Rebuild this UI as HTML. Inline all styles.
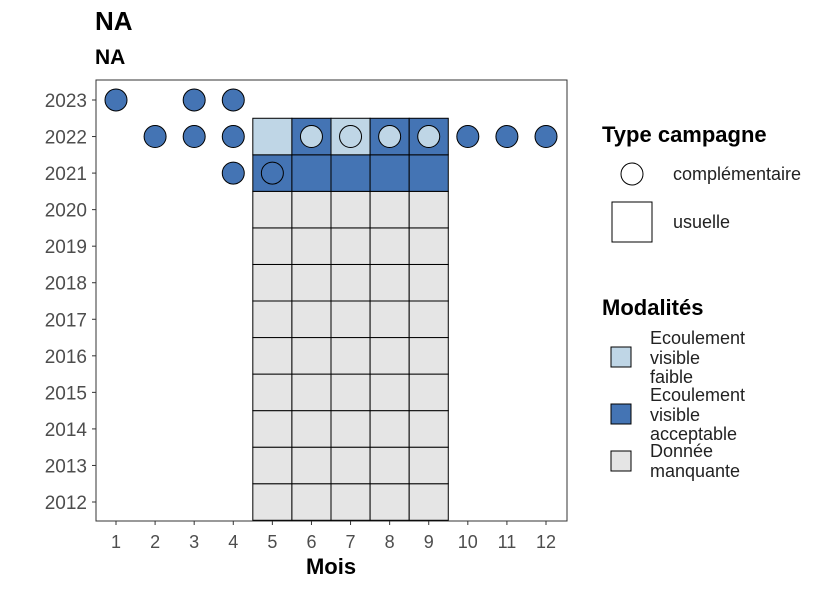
<!DOCTYPE html>
<html><head><meta charset="utf-8"><style>
body{margin:0;background:#fff;font-family:"Liberation Sans",sans-serif;}
</style></head><body>
<svg id="chart" width="826" height="590" viewBox="0 0 826 590" xmlns="http://www.w3.org/2000/svg">
<text x="95" y="30" font-size="26" font-weight="bold">NA</text>
<text x="95" y="64" font-size="21" font-weight="bold">NA</text>
<rect x="96" y="80" width="471" height="441" fill="none" stroke="#333" stroke-width="1"/>
<g id="tiles"></g><g id="points"></g><g id="axes"></g>
<text x="331" y="574" font-size="22" font-weight="bold" text-anchor="middle">Mois</text>
<g>
<text x="602" y="142" font-size="22" font-weight="bold">Type campagne</text>
<circle cx="632" cy="174" r="11" fill="#fff" stroke="#000"/>
<text x="673" y="180" font-size="18" fill="#222">complémentaire</text>
<rect x="612" y="202" width="40" height="40" fill="#fff" stroke="#000"/>
<text x="673" y="228" font-size="18" fill="#222">usuelle</text>
</g>
<g>
<text x="602" y="315" font-size="22" font-weight="bold">Modalités</text>
<rect x="611" y="347" width="20" height="20" fill="#bfd6e6" stroke="#000"/>
<text font-size="18" fill="#222"><tspan x="650" y="344">Ecoulement</tspan><tspan x="650" y="364">visible</tspan><tspan x="650" y="383">faible</tspan></text>
<rect x="611" y="404" width="20" height="20" fill="#4474b4" stroke="#000"/>
<text font-size="18" fill="#222"><tspan x="650" y="401">Ecoulement</tspan><tspan x="650" y="421">visible</tspan><tspan x="650" y="440">acceptable</tspan></text>
<rect x="611" y="451" width="20" height="20" fill="#e5e5e5" stroke="#000"/>
<text font-size="18" fill="#222"><tspan x="650" y="457">Donnée</tspan><tspan x="650" y="477">manquante</tspan></text>
</g>
</svg>
<script>
const months=[1,2,3,4,5,6,7,8,9,10,11,12];
const years=[2012,2013,2014,2015,2016,2017,2018,2019,2020,2021,2022,2023];
const tileMonths=[5,6,7,8,9,5,6,7,8,9,5,6,7,8,9,5,6,7,8,9,5,6,7,8,9,5,6,7,8,9,5,6,7,8,9,5,6,7,8,9,5,6,7,8,9,5,6,7,8,9,5,6,7,8,9];
const tileYears=[2012,2012,2012,2012,2012,2013,2013,2013,2013,2013,2014,2014,2014,2014,2014,2015,2015,2015,2015,2015,2016,2016,2016,2016,2016,2017,2017,2017,2017,2017,2018,2018,2018,2018,2018,2019,2019,2019,2019,2019,2020,2020,2020,2020,2020,2021,2021,2021,2021,2021,2022,2022,2022,2022,2022];
const tileMods=["m","m","m","m","m","m","m","m","m","m","m","m","m","m","m","m","m","m","m","m","m","m","m","m","m","m","m","m","m","m","m","m","m","m","m","m","m","m","m","m","m","m","m","m","m","a","a","a","a","a","f","a","f","a","a"];
const ptMonths=[1,3,4,2,3,4,6,7,8,9,10,11,12,4,5];
const ptYears=[2023,2023,2023,2022,2022,2022,2022,2022,2022,2022,2022,2022,2022,2021,2021];
const ptMods=["a","a","a","a","a","a","f","f","f","f","a","a","a","a","a"];
const colors={m:"#e5e5e5",a:"#4474b4",f:"#bfd6e6"};
const NS="http://www.w3.org/2000/svg";
const xS=m=>116+(m-1)*(546-116)/11;
const yS=y=>100+(2023-y)*(502-100)/11;
const bw=(546-116)/11, bh=(502-100)/11;
function mk(t,a,p){const e=document.createElementNS(NS,t);for(const k in a)e.setAttribute(k,a[k]);p.appendChild(e);return e;}
const tg=document.getElementById('tiles');
tileMonths.forEach((m,i)=>{const r=mk('rect',{x:xS(m)-bw/2,y:yS(tileYears[i])-bh/2,width:bw,height:bh,fill:colors[tileMods[i]],stroke:'#000','stroke-width':1},tg);

});
const pg=document.getElementById('points');
ptMonths.forEach((m,i)=>{const c=mk('circle',{cx:xS(m),cy:yS(ptYears[i]),r:11,fill:colors[ptMods[i]],stroke:'#000','stroke-width':1},pg);

});
const ag=document.getElementById('axes');
months.forEach(m=>{mk('line',{x1:xS(m),x2:xS(m),y1:521,y2:525,stroke:'#333'},ag);
const t=mk('text',{x:xS(m),y:548,'font-size':18,fill:'#4d4d4d','text-anchor':'middle'},ag);t.textContent=m;

});
years.forEach(y=>{mk('line',{x1:92,x2:96,y1:yS(y),y2:yS(y),stroke:'#333'},ag);
const t=mk('text',{x:87,y:yS(y)+7,'font-size':19,fill:'#4d4d4d','text-anchor':'end'},ag);t.textContent=y;

});
</script>
</body></html>
